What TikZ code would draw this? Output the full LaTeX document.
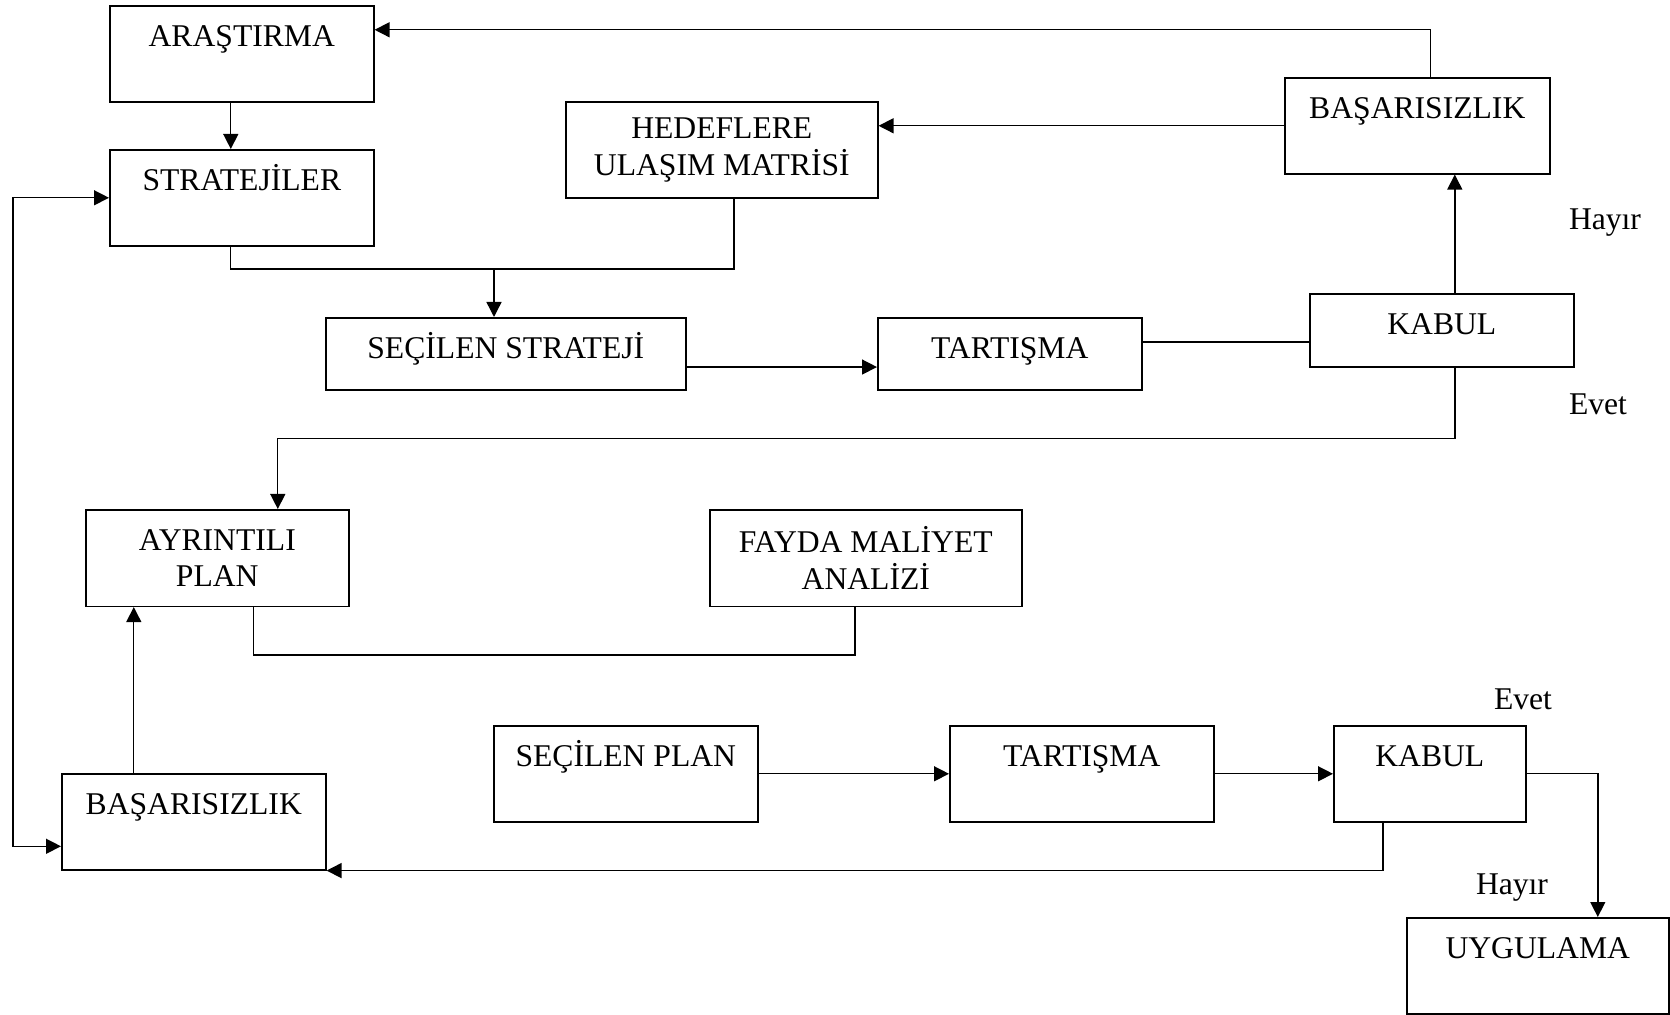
\documentclass[tikz,border=0pt]{standalone}
\usepackage{fontspec}
\setmainfont{Liberation Serif}
\usetikzlibrary{arrows.meta, positioning, calc}
\tikzset{
    % Box styles - plain black frames, text near the top
    block/.style={
        rectangle,
        draw=black,
        line width=0.9pt,
        anchor=north west,
        align=center,
        inner xsep=0pt,
        font=\fontsize{18}{21}\selectfont
    },
    tallblock/.style={
        block,
        inner ysep=0pt,
        text height=8.2mm,
        text depth=11mm
    },
    shortblock/.style={
        block,
        inner ysep=0pt,
        text height=8.2mm,
        text depth=6.3mm
    },
    twoline/.style={
        block,
        minimum height=19.3mm
    },
    % Arrow styles - straight lines only
    arrow/.style={
        -{Triangle[length=3mm, width=3mm]},
        line width=0.8pt
    },
    bothways/.style={
        {Triangle[length=3mm, width=3mm]}-{Triangle[length=3mm, width=3mm]},
        line width=0.8pt
    },
    link/.style={
        line width=0.8pt
    },
    answer/.style={
        anchor=base,
        font=\fontsize{18}{21}\selectfont
    }
}

\begin{document}
\begin{tikzpicture}[x=0.2mm, y=-0.2mm]
    \useasboundingbox (0,0) rectangle (1670,1015);

    % first stage
    \node[tallblock, minimum width=52.8mm] (arast) at (109,5) {ARAŞTIRMA};
    \node[tallblock, minimum width=52.8mm] (strat) at (109,149) {STRATEJİLER};
    \node[twoline, minimum width=62.4mm] (hedef) at (565,101) {HEDEFLERE\\ULAŞIM MATRİSİ};
    \node[tallblock, minimum width=53mm] (fail1) at (1284,77) {BAŞARISIZLIK};
    \node[shortblock, minimum width=72mm] (secstr) at (325,317) {SEÇİLEN STRATEJİ};
    \node[shortblock, minimum width=52.8mm] (tart1) at (877,317) {TARTIŞMA};
    \node[shortblock, minimum width=52.8mm, text depth=6.4mm] (kabul1) at (1309,293) {KABUL};

    % second stage
    \node[twoline, minimum width=52.6mm] (ayrin) at (85,509) {AYRINTILI\\PLAN};
    \node[twoline, minimum width=62.4mm] (fayda) at (709,509) {FAYDA MALİYET\\ANALİZİ};
    \node[tallblock, minimum width=52.8mm] (fail2) at (61,773) {BAŞARISIZLIK};
    \node[tallblock, minimum width=52.8mm] (secplan) at (493,725) {SEÇİLEN PLAN};
    \node[tallblock, minimum width=52.8mm] (tart2) at (949,725) {TARTIŞMA};
    \node[tallblock, minimum width=38.4mm] (kabul2) at (1333,725) {KABUL};
    \node[tallblock, minimum width=52.4mm] (uygul) at (1406,917) {UYGULAMA};

    % answers
    \node[answer] (hayir1) at (1605,230) {Hayır};
    \node[answer] (evet1) at (1598,415) {Evet};
    \node[answer] (evet2) at (1523,710) {Evet};
    \node[answer] (hayir2) at (1512,894) {Hayır};

    \coordinate (merge) at (494,269);

    \draw[arrow] ([xshift=-2.2mm]arast.south) -- ([xshift=-2.2mm]arast.south |- strat.north);
    \draw[link] ([xshift=-2.2mm]strat.south) |- (merge) -| ([xshift=2.4mm]hedef.south);
    \draw[arrow] (merge) -- (merge |- secstr.north);
    \draw[arrow] ([yshift=-2.6mm]secstr.east) -- ([yshift=-2.6mm]secstr.east -| tart1.west);
    \draw[link] ([yshift=2.4mm]tart1.east) -- ([yshift=2.4mm]tart1.east -| kabul1.west);
    \draw[arrow] ([xshift=2.6mm]kabul1.north) -- ([xshift=2.6mm]kabul1.north |- fail1.south);
    \draw[arrow] (fail1.west) -- (fail1.west -| hedef.east);
    \draw[arrow] ([xshift=2.6mm]fail1.north) |- ([yshift=4.8mm]arast.east);
    \draw[arrow] ([xshift=2.6mm]kabul1.south) -- ++(0,71) -| ([xshift=12.1mm]ayrin.north);

    \draw[link] ([xshift=7.3mm]ayrin.south) -- ++(0,48) -| ([xshift=-2.2mm]fayda.south);
    \draw[arrow] ([xshift=-12mm]fail2.north) -- ([xshift=-12mm]fail2.north |- ayrin.south);
    \draw[bothways] (strat.west) -- ++(-96,0) |- ([yshift=-4.9mm]fail2.west);
    \draw[arrow] (secplan.east) -- (tart2.west);
    \draw[arrow] (tart2.east) -- (kabul2.west);
    \draw[arrow] (kabul2.east) -| ([xshift=12mm]uygul.north);
    \draw[arrow] ([xshift=-9.4mm]kabul2.south) |- (fail2.south east);
\end{tikzpicture}
\end{document}
